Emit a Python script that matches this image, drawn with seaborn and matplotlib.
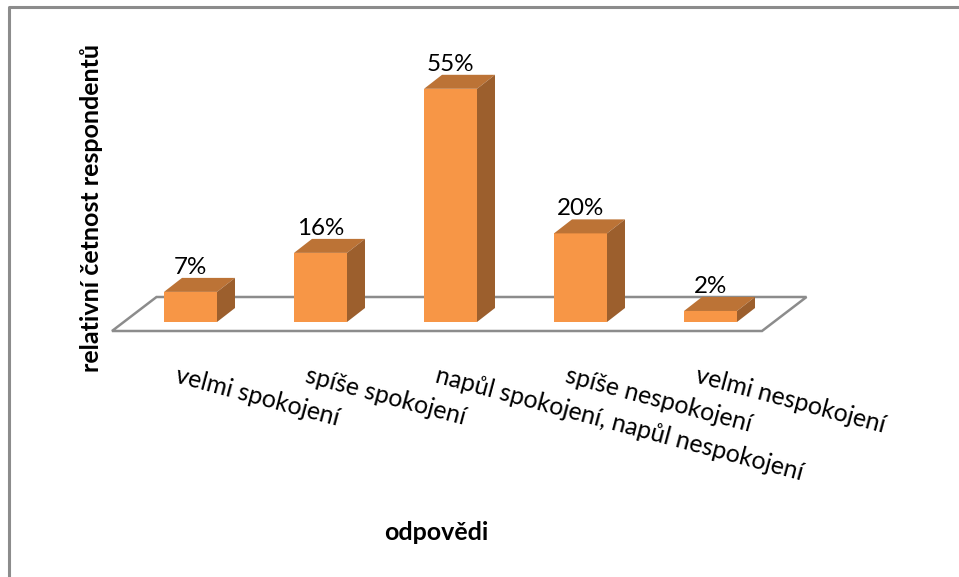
"""Relative frequency of answers, drawn as a fake 3D column chart."""

import matplotlib.pyplot as plt
from matplotlib.lines import Line2D
from matplotlib.transforms import ScaledTranslation
import pandas as pd
import seaborn as sns

categories = [
    'velmi spokojení',
    'spíše spokojení',
    'napůl spokojení, napůl nespokojení',
    'spíše nespokojení',
    'velmi nespokojení',
]
values = [7.1, 16.3, 55, 20.9, 2.6]
value_labels = ['7%', '16%', '55%', '20%', '2%']
x_title = 'odpovědi'
y_title = 'relativní četnost respondentů'

W, H = 959, 577
PX_PER_CAT = 130
PX_PER_PCT = 4.24
DEPTH_X = 18 / PX_PER_CAT
DEPTH_Y = 14 / PX_PER_PCT
FRONT = '#F79646'
TOP = '#BC7336'
SIDE = '#9C5F2D'
LINE = '#8C8C8C'

sns.set_theme(style='white')
plt.rcParams['font.family'] = ['Lato', 'DejaVu Sans']

fig = plt.figure(figsize=(W / 100, H / 100), dpi=100)
# axes: x from 125.5 to 775.5 px, baseline at 322 px, top at 60 px
ax = fig.add_axes([125.5 / W, (H - 322) / H, 650 / W, 262 / H])

df = pd.DataFrame({'answer': categories, 'share': values})
sns.barplot(data=df, x='answer', y='share', color=FRONT, saturation=1,
            width=53 / PX_PER_CAT, linewidth=0, ax=ax, zorder=3)
ax.set_xlim(-0.5, 4.5)
ax.set_ylim(0, 262 / PX_PER_PCT)
sns.despine(ax=ax, left=True, bottom=True)
ax.set_yticks([])
ax.set_ylabel('')
ax.patch.set_alpha(0)

# floor of the chart
fx0, fx1 = (112 - 190.5) / PX_PER_CAT, (762 - 190.5) / PX_PER_CAT
fy0, fy1 = -9 / PX_PER_PCT, 25 / PX_PER_PCT
shift = 44.5 / PX_PER_CAT
ax.fill([fx0, fx1, fx1 + shift, fx0 + shift], [fy0, fy0, fy1, fy1],
        facecolor='white', edgecolor=LINE, linewidth=1.8, clip_on=False, zorder=1)

# top and side faces of each bar
for bar in ax.containers[0]:
    x0, x1 = bar.get_x(), bar.get_x() + bar.get_width()
    h = bar.get_height()
    ax.fill([x0, x1, x1 + DEPTH_X, x0 + DEPTH_X], [h, h, h + DEPTH_Y, h + DEPTH_Y],
            color=TOP, linewidth=0, clip_on=False, zorder=3)
    ax.fill([x1, x1 + DEPTH_X, x1 + DEPTH_X, x1], [0, DEPTH_Y, h + DEPTH_Y, h],
            color=SIDE, linewidth=0, clip_on=False, zorder=3)

ax.bar_label(ax.containers[0], labels=value_labels, padding=10, fontsize=17.4,
             color='black', zorder=4)

# slanted category labels starting left of each bar
ax.set_xlabel('')
ax.tick_params(axis='x', length=0, pad=30)
ax.set_xticks(range(len(categories)))
ax.set_xticklabels(categories, rotation=-15, ha='left', va='top',
                   rotation_mode='anchor', fontsize=17.8, color='black')
offset = ScaledTranslation(-12 / 100, 0, fig.dpi_scale_trans)
for label in ax.get_xticklabels():
    label.set_transform(label.get_transform() + offset)

fig.text(436 / W, 1 - 533 / H, x_title, ha='center', va='center',
         fontsize=18, fontweight='bold', color='black')
fig.text(92 / W, 1 - 208 / H, y_title, rotation=90, ha='center', va='center',
         fontsize=18, fontweight='bold', color='black')

# outer frame, only left and top are visible
fig.add_artist(Line2D([8.5 / W, 8.5 / W, 1], [0, 1 - 6.5 / H, 1 - 6.5 / H],
                      color=LINE, linewidth=2.2, transform=fig.transFigure))

fig.savefig('out.png', dpi=100)
